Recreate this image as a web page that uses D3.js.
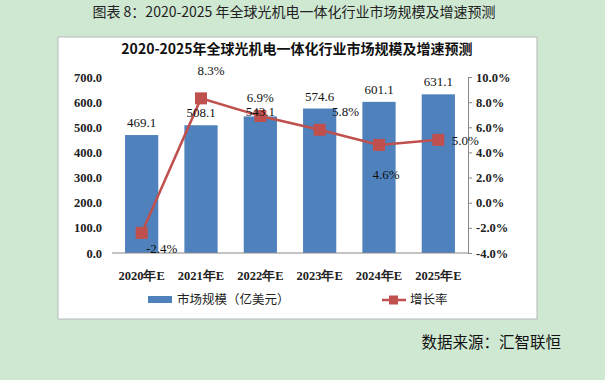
<!DOCTYPE html>
<html><head><meta charset="utf-8">
<script src="https://cdn.jsdelivr.net/npm/d3@7/dist/d3.min.js"></script>
<style>body{margin:0;background:#cfe8d2;}svg{display:block;}</style>
</head><body>
<svg id="c" width="605" height="380"></svg>
<script>
const categories = ["2020年E","2021年E","2022年E","2023年E","2024年E","2025年E"];
const marketSize = [469.1, 508.1, 543.1, 574.6, 601.1, 631.1];
const growthRate = [-2.4, 8.3, 6.9, 5.8, 4.6, 5.0];
const leftTicks = [0,100,200,300,400,500,600,700];
const rightTicks = [-4,-2,0,2,4,6,8,10];

const svg = d3.select("#c");
const numFont = "'Liberation Serif', 'DejaVu Serif', serif";
const cjk = "'Noto Sans CJK SC', sans-serif";

svg.append("rect").attr("width",605).attr("height",380).attr("fill","#cfe8d2");
svg.append("text").attr("x",294).attr("y",17).attr("text-anchor","middle")
  .attr("font-family",cjk).attr("font-size",14).attr("fill","#222")
  .text("图表 8：2020-2025 年全球光机电一体化行业市场规模及增速预测");
svg.append("rect").attr("x",58).attr("y",37).attr("width",479).attr("height",282)
  .attr("fill","#fff").attr("stroke","#b8b8b8");
svg.append("text").attr("x",297).attr("y",54).attr("text-anchor","middle")
  .attr("font-family",cjk).attr("font-weight","bold").attr("font-size",14).attr("fill","#111")
  .text("2020-2025年全球光机电一体化行业市场规模及增速预测");

const x = d3.scaleBand().domain(categories).range([112,468]).paddingInner(0.44).paddingOuter(0.22);
const y = d3.scaleLinear().domain([0,700]).range([253,77]);
const y2 = d3.scaleLinear().domain([-4,10]).range([253,77]);

// left axis
const gl = svg.append("g").attr("transform","translate(112,0)")
  .call(d3.axisLeft(y).tickValues(leftTicks).tickFormat(d3.format(".1f")).tickSize(0).tickPadding(10));
gl.select(".domain").remove();
gl.selectAll("text").attr("font-family",numFont).attr("font-weight","bold").attr("font-size",12.5).attr("fill","#222");

// right axis
const gr = svg.append("g").attr("transform","translate(468,0)")
  .call(d3.axisRight(y2).tickValues(rightTicks).tickFormat(d=>d.toFixed(1)+"%").tickSizeInner(4).tickSizeOuter(4).tickPadding(4));
gr.select(".domain").attr("stroke","#888");
gr.selectAll("line").attr("stroke","#888");
gr.selectAll("text").attr("font-family",numFont).attr("font-weight","bold").attr("font-size",12.5).attr("fill","#222");

// bars
svg.append("g").selectAll("rect").data(categories).join("rect")
  .attr("x",d=>x(d)).attr("width",x.bandwidth())
  .attr("y",(d,i)=>y(marketSize[i])).attr("height",(d,i)=>y(0)-y(marketSize[i]))
  .attr("fill","#4f81bd");

// baseline
svg.append("line").attr("x1",112).attr("x2",468).attr("y1",y(0)).attr("y2",y(0)).attr("stroke","#888");

// x axis labels
const gx = svg.append("g").attr("transform",`translate(0,${y(0)})`)
  .call(d3.axisBottom(x).tickSize(0).tickPadding(18));
gx.select(".domain").remove();
gx.selectAll("text").attr("font-family",numFont).attr("font-weight","bold").attr("font-size",12.5).attr("fill","#222");

// line
const cx = d=>x(d)+x.bandwidth()/2;
const line = d3.line().x((d,i)=>cx(categories[i])).y(d=>y2(d));
svg.append("path").datum(growthRate).attr("d",line).attr("fill","none").attr("stroke","#c0504d").attr("stroke-width",2.5);
svg.append("g").selectAll("rect").data(growthRate).join("rect")
  .attr("x",(d,i)=>cx(categories[i])-6).attr("y",d=>y2(d)-6).attr("width",12).attr("height",12)
  .attr("fill","#c0504d");

// bar value labels (drawn above the line, as in the reference)
svg.append("g").selectAll("text").data(categories).join("text")
  .attr("x",d=>x(d)+x.bandwidth()/2).attr("y",(d,i)=>y(marketSize[i])-(i===2?0:8))
  .attr("text-anchor","middle").attr("font-family",numFont).attr("font-size",13).attr("fill","#111")
  .text((d,i)=>marketSize[i].toFixed(1));

// growth labels (dx, dy baseline) relative to each marker
const off = [[20,20],[10,-23],[0,-14],[26,-14],[7,34],[27,5]];
svg.append("g").selectAll("text").data(growthRate).join("text")
  .attr("x",(d,i)=>cx(categories[i])+off[i][0]).attr("y",(d,i)=>y2(d)+off[i][1])
  .attr("text-anchor","middle").attr("font-family",numFont).attr("font-size",13).attr("fill","#111")
  .text(d=>d.toFixed(1)+"%");

// legend
svg.append("rect").attr("x",148).attr("y",296).attr("width",24).attr("height",7).attr("fill","#4f81bd");
svg.append("text").attr("x",177).attr("y",304).attr("font-family",cjk).attr("font-size",12.5).attr("fill","#222").text("市场规模（亿美元）");
svg.append("line").attr("x1",382).attr("x2",406).attr("y1",300).attr("y2",300).attr("stroke","#c0504d").attr("stroke-width",2.5);
svg.append("rect").attr("x",389).attr("y",295.5).attr("width",9).attr("height",9).attr("fill","#c0504d");
svg.append("text").attr("x",410).attr("y",304).attr("font-family",cjk).attr("font-size",12.5).attr("fill","#222").text("增长率");

// source
svg.append("text").attr("x",561).attr("y",348).attr("text-anchor","end")
  .attr("font-family",cjk).attr("font-size",15.5).attr("fill","#111").text("数据来源：汇智联恒");
</script>
</body></html>
